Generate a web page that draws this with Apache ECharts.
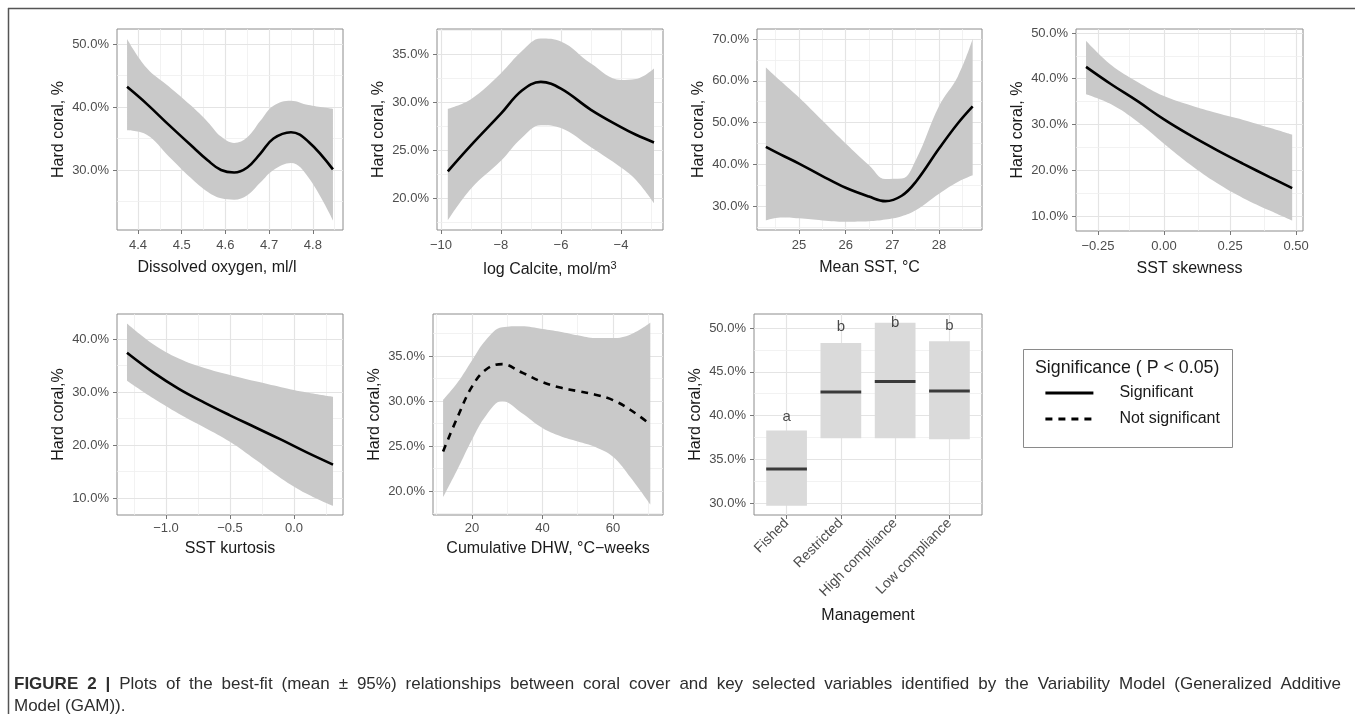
<!DOCTYPE html>
<html>
<head>
<meta charset="utf-8">
<title>Hard coral GAM plots</title>
<script src="https://cdn.jsdelivr.net/npm/echarts@6.0.0/dist/echarts.min.js"></script>
<style>
  html, body { margin: 0; padding: 0; background: #fff; }
  #chart { width: 1355px; height: 714px; }
</style>
</head>
<body>
<div id="chart"></div>
<script>
// dissolved oxygen, ml/l
const oxyX   = [4.375, 4.42, 4.47, 4.52, 4.56, 4.59, 4.62, 4.65, 4.68, 4.71, 4.75, 4.79, 4.846];
const oxyFit = [43.2, 40.5, 37.2, 34.0, 31.5, 30.0, 29.6, 30.4, 32.6, 35.0, 36.0, 34.5, 30.1];
const oxyHi  = [50.8, 46.2, 43.3, 40.3, 37.6, 35.3, 34.3, 35.2, 37.8, 40.2, 41.0, 40.3, 39.7];
const oxyLo  = [36.3, 35.6, 32.2, 28.8, 26.5, 25.5, 25.3, 26.0, 28.0, 30.0, 31.1, 28.8, 22.0];
const oxyTicks = [4.4, 4.5, 4.6, 4.7, 4.8];
const oxyYTicks = [30, 40, 50];

// log calcite
const calX   = [-9.77, -9.0, -8.0, -7.3, -6.67, -6.0, -5.0, -4.0, -3.5, -2.9];
const calFit = [22.8, 25.5, 28.8, 31.2, 32.1, 31.4, 29.2, 27.4, 26.6, 25.8];
const calHi  = [29.3, 30.3, 33.0, 35.3, 36.6, 36.3, 34.0, 32.3, 32.4, 33.5];
const calLo  = [17.7, 21.0, 23.9, 26.3, 27.6, 27.3, 25.3, 23.2, 21.9, 19.5];
const calTicks = [-10, -8, -6, -4];
const calYTicks = [20, 25, 30, 35];

// mean SST
const sstX   = [24.29, 24.6, 25.0, 25.5, 26.0, 26.5, 26.85, 27.2, 27.5, 28.0, 28.4, 28.72];
const sstFit = [44.2, 42.4, 40.2, 37.2, 34.4, 32.3, 31.2, 32.5, 35.8, 43.8, 49.8, 53.9];
const sstHi  = [63.2, 60.0, 56.0, 50.5, 45.0, 39.8, 36.5, 36.6, 41.0, 54.0, 61.0, 70.0];
const sstLo  = [26.6, 27.3, 27.1, 26.6, 26.3, 26.4, 26.8, 27.6, 29.0, 33.0, 35.8, 37.4];
const sstTicks = [25, 26, 27, 28];
const sstYTicks = [30, 40, 50, 60, 70];

// SST skewness
const skewX   = [-0.295, -0.2, -0.1, 0.0, 0.1, 0.2, 0.3, 0.4, 0.485];
const skewFit = [42.6, 38.8, 35.1, 31.1, 27.6, 24.4, 21.4, 18.5, 16.1];
const skewHi  = [48.3, 43.0, 39.3, 36.2, 34.2, 32.5, 31.0, 29.3, 27.8];
const skewLo  = [36.6, 34.4, 30.6, 25.8, 21.2, 17.2, 13.9, 11.2, 9.0];
const skewTicks = [-0.25, 0, 0.25, 0.5];
const skewYTicks = [10, 20, 30, 40, 50];

// SST kurtosis
const kurtX   = [-1.305, -1.1, -0.9, -0.7, -0.5, -0.3, -0.1, 0.1, 0.305];
const kurtFit = [37.4, 33.7, 30.6, 28.0, 25.6, 23.3, 21.0, 18.6, 16.3];
const kurtHi  = [42.9, 39.0, 36.3, 34.5, 33.2, 32.0, 30.9, 29.9, 29.1];
const kurtLo  = [32.1, 28.8, 25.9, 23.3, 20.6, 17.2, 13.7, 10.8, 8.5];
const kurtTicks = [-1, -0.5, 0];
const kurtYTicks = [10, 20, 30, 40];

// cumulative DHW (not significant)
const dhwX   = [11.8, 16, 20, 24, 28.6, 34, 40, 45, 50, 55, 60, 65, 70.6];
const dhwFit = [24.4, 28.3, 31.6, 33.5, 34.1, 33.2, 32.1, 31.5, 31.1, 30.7, 30.1, 29.0, 27.4];
const dhwHi  = [30.1, 32.1, 34.5, 36.8, 38.2, 38.3, 38.0, 37.7, 37.3, 37.0, 37.0, 37.4, 38.7];
const dhwLo  = [19.3, 22.5, 25.7, 28.4, 30.0, 28.7, 27.0, 26.1, 25.5, 24.9, 23.8, 21.5, 18.5];
const dhwTicks = [20, 40, 60];
const dhwYTicks = [20, 25, 30, 35];

// management
const mgmtCats    = ['Fished', 'Restricted', 'High compliance', 'Low compliance'];
const mgmtMean    = [33.9, 42.7, 43.9, 42.8];
const mgmtLo      = [29.7, 37.4, 37.4, 37.3];
const mgmtHi      = [38.3, 48.3, 50.6, 48.5];
const mgmtLetters = ['a', 'b', 'b', 'b'];
const mgmtLetterY = [39.8, 50.1, 50.6, 50.2];
const mgmtYTicks  = [30, 35, 40, 45, 50];

// caption
const captionBold = 'FIGURE 2 |';
const captionLine1 = 'Plots of the best-fit (mean \u00b1 95%) relationships between coral cover and key selected variables identified by the Variability Model (Generalized Additive';
const captionLine2 = 'Model (GAM)).';

const FONT = "'Liberation Sans', Arial, sans-serif";
const LABEL_COLOR = '#4d4d4d';
const TITLE_COLOR = '#1a1a1a';

// layout of each panel: box = [left, top, width, height]
const panels = [
  {box: [117, 29, 226, 201], xr: [4.352, 4.869], yr: [20.48, 52.38], xs: oxyX, fit: oxyFit, hi: oxyHi, lo: oxyLo,
   xt: oxyTicks, yt: oxyYTicks, dec: 1, xName: 'Dissolved oxygen, ml/l', yName: 'Hard coral, %', shift: 26, top: true},
  {box: [437, 29, 226, 201], xr: [-10.13, -2.6], yr: [16.7, 37.6], xs: calX, fit: calFit, hi: calHi, lo: calLo,
   xt: calTicks, yt: calYTicks, dec: 0, xName: 'log Calcite, mol/m{sup|3}', yName: 'Hard coral, %', top: true},
  {box: [757, 29, 225, 201], xr: [24.1, 28.92], yr: [24.3, 72.4], xs: sstX, fit: sstFit, hi: sstHi, lo: sstLo,
   xt: sstTicks, yt: sstYTicks, dec: 0, xName: 'Mean SST, \u00b0C', yName: 'Hard coral, %', top: true},
  {box: [1076, 29, 227, 202], xr: [-0.333, 0.526], yr: [6.72, 50.87], xs: skewX, fit: skewFit, hi: skewHi, lo: skewLo,
   xt: skewTicks, yt: skewYTicks, dec: 2, xName: 'SST skewness', yName: 'Hard coral, %', top: true},
  {box: [117, 314, 226, 201], xr: [-1.383, 0.383], yr: [6.8, 44.7], xs: kurtX, fit: kurtFit, hi: kurtHi, lo: kurtLo,
   xt: kurtTicks, yt: kurtYTicks, dec: 1, xName: 'SST kurtosis', yName: 'Hard coral,%'},
  {box: [433, 314, 230, 201], xr: [8.94, 74.2], yr: [17.33, 39.67], xs: dhwX, fit: dhwFit, hi: dhwHi, lo: dhwLo,
   xt: dhwTicks, yt: dhwYTicks, dec: 0, xName: 'Cumulative DHW, \u00b0C\u2212weeks', yName: 'Hard coral,%', dashed: true},
  {box: [754, 314, 228, 201], xr: [0.4, 4.6], yr: [28.63, 51.6], cats: mgmtCats,
   xt: [1, 2, 3, 4], yt: mgmtYTicks, xName: 'Management', yName: 'Hard coral,%'}
];

function fmtTick(v, dec) {
  return v.toFixed(dec).replace('-', '\u2212');
}

// minor grid: midway between major ticks, kept inside the panel
function minorOf(ticks, range) {
  const step = ticks[1] - ticks[0];
  const out = [];
  for (let t = ticks[0] - step / 2; t <= ticks[ticks.length - 1] + step / 2 + 1e-9; t += step) {
    if (t > range[0] && t < range[1]) out.push(+t.toFixed(6));
  }
  return out;
}

function gridLines(p) {
  const major = {color: '#e4e4e4', width: 1.2, type: 'solid'};
  const minor = {color: '#efefef', width: 0.8, type: 'solid'};
  const d = [];
  p.xt.forEach(v => d.push({xAxis: v, lineStyle: major}));
  if (!p.cats) minorOf(p.xt, p.xr).forEach(v => d.push({xAxis: v, lineStyle: minor}));
  p.yt.forEach(v => d.push({yAxis: v, lineStyle: major}));
  minorOf(p.yt, p.yr).forEach(v => d.push({yAxis: v, lineStyle: minor}));
  return {
    silent: true, symbol: ['none', 'none'], label: {show: false}, animation: false, z: 1,
    emphasis: {disabled: true}, data: d
  };
}

const pts = (xs, ys) => xs.map((x, k) => [x, ys[k]]);
// y first so that the stack runs on the value column (encode maps it back)
const ptsYX = (xs, ys) => xs.map((x, k) => [ys[k], x]);

const grids = [], xAxes = [], yAxes = [], series = [];

panels.forEach((p, i) => {
  grids.push({
    left: p.box[0], top: p.box[1], width: p.box[2], height: p.box[3],
    show: true, borderColor: '#8c8c8c', borderWidth: 1, backgroundColor: '#fff'
  });
  xAxes.push({
    type: 'value', gridIndex: i, min: p.xr[0], max: p.xr[1],
    name: p.xName, nameLocation: 'middle', nameGap: p.cats ? 93 : (p.top ? 30 : 26),
    nameMoveOverlap: false,
    nameTextStyle: {
      fontSize: 16, color: TITLE_COLOR, fontFamily: FONT,
      padding: p.shift ? [0, p.shift, 0, 0] : 0,
      rich: {sup: {fontSize: 11, color: TITLE_COLOR, fontFamily: FONT, padding: [0, 0, 8, 0]}}
    },
    axisLine: {show: false, onZero: false},
    axisTick: {show: true, length: 4, customValues: p.xt, lineStyle: {color: '#777'}},
    axisLabel: {
      customValues: p.xt, fontSize: p.cats ? 14 : 13, color: LABEL_COLOR, fontFamily: FONT,
      margin: p.cats ? 6 : (p.top ? 9 : 7), rotate: p.cats ? 45 : 0,
      formatter: p.cats ? (v => p.cats[Math.round(v) - 1]) : (v => fmtTick(v, p.dec))
    },
    splitLine: {show: false}
  });
  yAxes.push({
    type: 'value', gridIndex: i, min: p.yr[0], max: p.yr[1],
    name: p.yName, nameLocation: 'middle', nameGap: 50, nameRotate: 90,
    nameTextStyle: {fontSize: 16, color: TITLE_COLOR, fontFamily: FONT},
    axisLine: {show: false, onZero: false},
    axisTick: {show: true, length: 4, customValues: p.yt, lineStyle: {color: '#777'}},
    axisLabel: {
      customValues: p.yt, fontSize: 13, color: LABEL_COLOR, fontFamily: FONT, margin: 8,
      formatter: v => v.toFixed(1) + '%'
    },
    splitLine: {show: false}
  });

  if (!p.cats) {
    series.push({
      type: 'line', xAxisIndex: i, yAxisIndex: i, stack: 'band' + i, encode: {x: 1, y: 0},
      data: ptsYX(p.xs, p.lo), symbol: 'none', smooth: 0.4,
      lineStyle: {opacity: 0}, silent: true, z: 3, markLine: gridLines(p)
    });
    series.push({
      type: 'line', xAxisIndex: i, yAxisIndex: i, stack: 'band' + i, encode: {x: 1, y: 0},
      data: ptsYX(p.xs, p.hi.map((h, k) => h - p.lo[k])), symbol: 'none', smooth: 0.4,
      lineStyle: {opacity: 0}, areaStyle: {color: '#c9c9c9', opacity: 1}, silent: true, z: 3
    });
    series.push({
      type: 'line', name: p.dashed ? 'Not significant' : 'Significant',
      xAxisIndex: i, yAxisIndex: i, data: pts(p.xs, p.fit), symbol: 'none', smooth: 0.4,
      lineStyle: {color: '#000', width: 2.6, type: p.dashed ? [7, 6] : 'solid'}, z: 4
    });
  } else {
    series.push({
      type: 'custom', xAxisIndex: i, yAxisIndex: i, silent: true, z: 3,
      data: mgmtMean.map((m, k) => [k + 1, mgmtLo[k], mgmtHi[k], m]),
      renderItem: (params, api) => {
        const c = api.value(0), half = 0.375;
        const a = api.coord([c - half, api.value(2)]);
        const b = api.coord([c + half, api.value(1)]);
        const m0 = api.coord([c - half, api.value(3)]);
        const m1 = api.coord([c + half, api.value(3)]);
        return {
          type: 'group', children: [
            {type: 'rect', shape: {x: a[0], y: a[1], width: b[0] - a[0], height: b[1] - a[1]}, style: {fill: '#dadada'}},
            {type: 'line', shape: {x1: m0[0], y1: m0[1], x2: m1[0], y2: m1[1]}, style: {stroke: '#3a3a3a', lineWidth: 3}}
          ]
        };
      }
    });
    series.push({
      type: 'scatter', xAxisIndex: i, yAxisIndex: i, silent: true, z: 4,
      data: pts([1, 2, 3, 4], mgmtLetterY), symbolSize: 1, itemStyle: {color: 'rgba(0,0,0,0)'},
      label: {
        show: true, position: 'inside', fontSize: 15, color: TITLE_COLOR, fontFamily: FONT,
        formatter: prm => mgmtLetters[prm.dataIndex]
      },
      markLine: gridLines(p)
    });
  }
});

// justified first caption line
const CAP_SIZE = 17, CAP_LEFT = 14, CAP_RIGHT = 1341;
const ctx = document.createElement('canvas').getContext('2d');
function wordWidth(w, bold) {
  ctx.font = (bold ? 'bold ' : '') + CAP_SIZE + 'px ' + FONT;
  return ctx.measureText(w).width;
}
const capWords = captionBold.split(' ').map(w => ({w, b: true}))
  .concat(captionLine1.split(' ').map(w => ({w, b: false})));
const natural = capWords.reduce((s, o) => s + wordWidth(o.w, o.b), 0);
const wordGap = (CAP_RIGHT - CAP_LEFT - natural) / (capWords.length - 1);
const captionEls = [];
let cx = CAP_LEFT;
capWords.forEach(o => {
  captionEls.push({
    type: 'text', x: cx, y: 684, silent: true,
    style: {text: o.w, fontSize: CAP_SIZE, fontWeight: o.b ? 'bold' : 'normal', fill: '#2e2e2e',
            fontFamily: FONT, verticalAlign: 'middle'}
  });
  cx += wordWidth(o.w, o.b) + wordGap;
});
captionEls.push({
  type: 'text', x: CAP_LEFT, y: 706, silent: true,
  style: {text: captionLine2, fontSize: CAP_SIZE, fill: '#2e2e2e', fontFamily: FONT, verticalAlign: 'middle'}
});

const chart = echarts.init(document.getElementById('chart'));
chart.setOption({
  animation: false,
  backgroundColor: '#fff',
  textStyle: {fontFamily: FONT},
  grid: grids,
  xAxis: xAxes,
  yAxis: yAxes,
  series: series,
  legend: {
    data: ['Significant', 'Not significant'],
    orient: 'vertical', left: 1044, top: 385, padding: 0,
    itemWidth: 48, itemHeight: 14, itemGap: 10, selectedMode: false,
    itemStyle: {opacity: 0, borderWidth: 0},
    lineStyle: {width: 2.8},
    textStyle: {fontSize: 16, color: TITLE_COLOR, fontFamily: FONT, padding: [0, 0, 0, 21]}
  },
  graphic: [
    {type: 'line', shape: {x1: 8, y1: 8.5, x2: 1355, y2: 8.5}, style: {stroke: '#555', lineWidth: 1.5}, silent: true},
    {type: 'line', shape: {x1: 8.5, y1: 8, x2: 8.5, y2: 714}, style: {stroke: '#555', lineWidth: 1.5}, silent: true},
    {type: 'rect', shape: {x: 1023.5, y: 349.5, width: 209, height: 98},
     style: {fill: 'none', stroke: '#8a8a8a', lineWidth: 1}, silent: true},
    {type: 'text', left: 1035, top: 359,
     style: {text: 'Significance ( P < 0.05)', fontSize: 17.8, fill: TITLE_COLOR, fontFamily: FONT}, silent: true}
  ].concat(captionEls)
});
</script>
</body>
</html>
